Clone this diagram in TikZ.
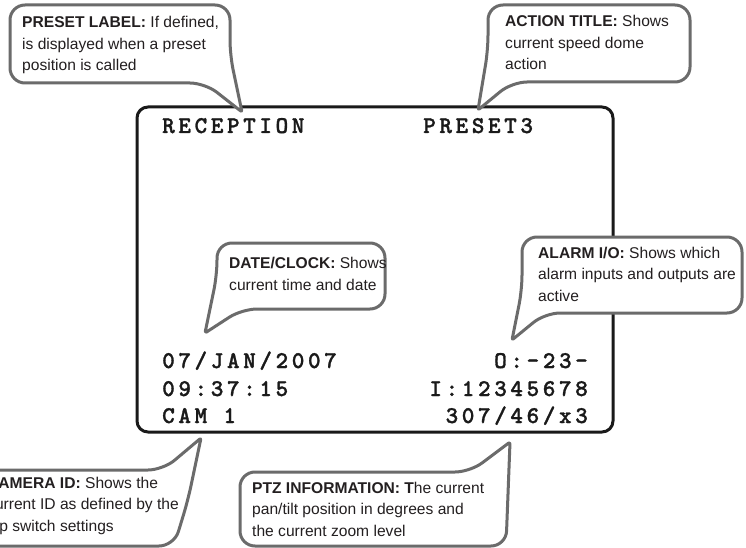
\documentclass[tikz,border=0pt]{standalone}
\usepackage{fontspec}
\setmainfont{Liberation Sans}
\newfontfamily\osdfont{lmmonolt10-bold.otf}[LetterSpace=15,FakeBold=1.2]
\definecolor{bubblegray}{HTML}{6B6B6B}
\definecolor{notetext}{HTML}{231F20}
\definecolor{screenblack}{HTML}{1A1A1A}
\begin{document}
\begin{tikzpicture}[x=1pt,y=-1pt,
  bubble/.style={draw=bubblegray, line width=3pt, fill=white, rounded corners=15pt, line join=round},
  screen/.style={draw=screenblack, line width=3pt, rounded corners=11pt},
  osd/.style={font=\osdfont\fontsize{24}{24}\selectfont, inner sep=0pt, text=screenblack},
  note/.style={font=\fontsize{15.6}{21.5}\selectfont, align=left, inner sep=0pt, text=notetext, anchor=base west}]
\useasboundingbox (0,0) rectangle (746,548);
\fill[white] (0,0) rectangle (746,548);

% screen
\draw[screen] (137,107) rectangle (613,432);
\node[osd, anchor=base west] (rec) at (162,133) {RECEPTION};
\node[osd, anchor=base west] (pre) at (423,133) {PRESET3};
\node[osd, anchor=base west] (date) at (162,368) {07/JAN/2007};
\node[osd, anchor=base west] (time) at (162,396) {09:37:15};
\node[osd, anchor=base west] (cam) at (162,423) {CAM 1};
\node[osd, anchor=base east] (out) at (588,368) {O:-23-};
\node[osd, anchor=base east] (in) at (588,396) {I:12345678};
\node[osd, anchor=base east] (ptz) at (588,423) {307/46/x3};

% bubble 1: preset label (node anchored at last line baseline)
\draw[bubble] (10,5) -- (230,5) -- (230,55) [rounded corners=2pt] -- (242,112) [rounded corners=15pt] -- (205,83) -- (10,83) -- cycle;
\node[note] (n1) at (22,71) {\textbf{PRESET LABEL:} If defined,\\is displayed when a preset\\position is called};

% bubble 2: action title
\draw[bubble] (488,5) -- (690,5) -- (690,82) -- (512,82) [rounded corners=2pt] -- (478,110) [rounded corners=15pt] -- (488,50) -- cycle;
\node[note] (n2) at (505,70) {\textbf{ACTION TITLE:} Shows\\current speed dome\\action};

% bubble 3: date/clock
\draw[bubble] (217,243) -- (385,243) -- (385,309) -- (242,309) [rounded corners=2pt] -- (205,333) [rounded corners=15pt] -- (217,275) -- cycle;
\node[note] (n3) at (229,290) {\textbf{DATE/CLOCK:} Shows\\current time and date};

% bubble 4: alarm I/O
\draw[bubble] (522,237) -- (742,237) -- (742,313) -- (545,313) [rounded corners=2pt] -- (512,340) [rounded corners=15pt] -- (522,290) -- cycle;
\node[note] (n4) at (538,301) {\textbf{ALARM I/O:} Shows which\\alarm inputs and outputs are\\active};

% bubble 5: camera ID
\draw[bubble] (-20,470) -- (163,470) [rounded corners=2pt] -- (201,438) [rounded corners=15pt] -- (188,500) -- (174,546) -- (-20,546) -- cycle;
\node[note] (n5) at (-13,531) {\textbf{CAMERA ID:} Shows the\\current ID as defined by the\\dip switch settings};

% bubble 6: PTZ information
\draw[bubble] (240,472) -- (470,472) [rounded corners=2pt] -- (510,442) [rounded corners=15pt] -- (506,546) -- (240,546) -- cycle;
\node[note] (n6) at (252,536) {\textbf{PTZ INFORMATION: T}he current\\pan/tilt position in degrees and\\the current zoom level};
\end{tikzpicture}
\end{document}
